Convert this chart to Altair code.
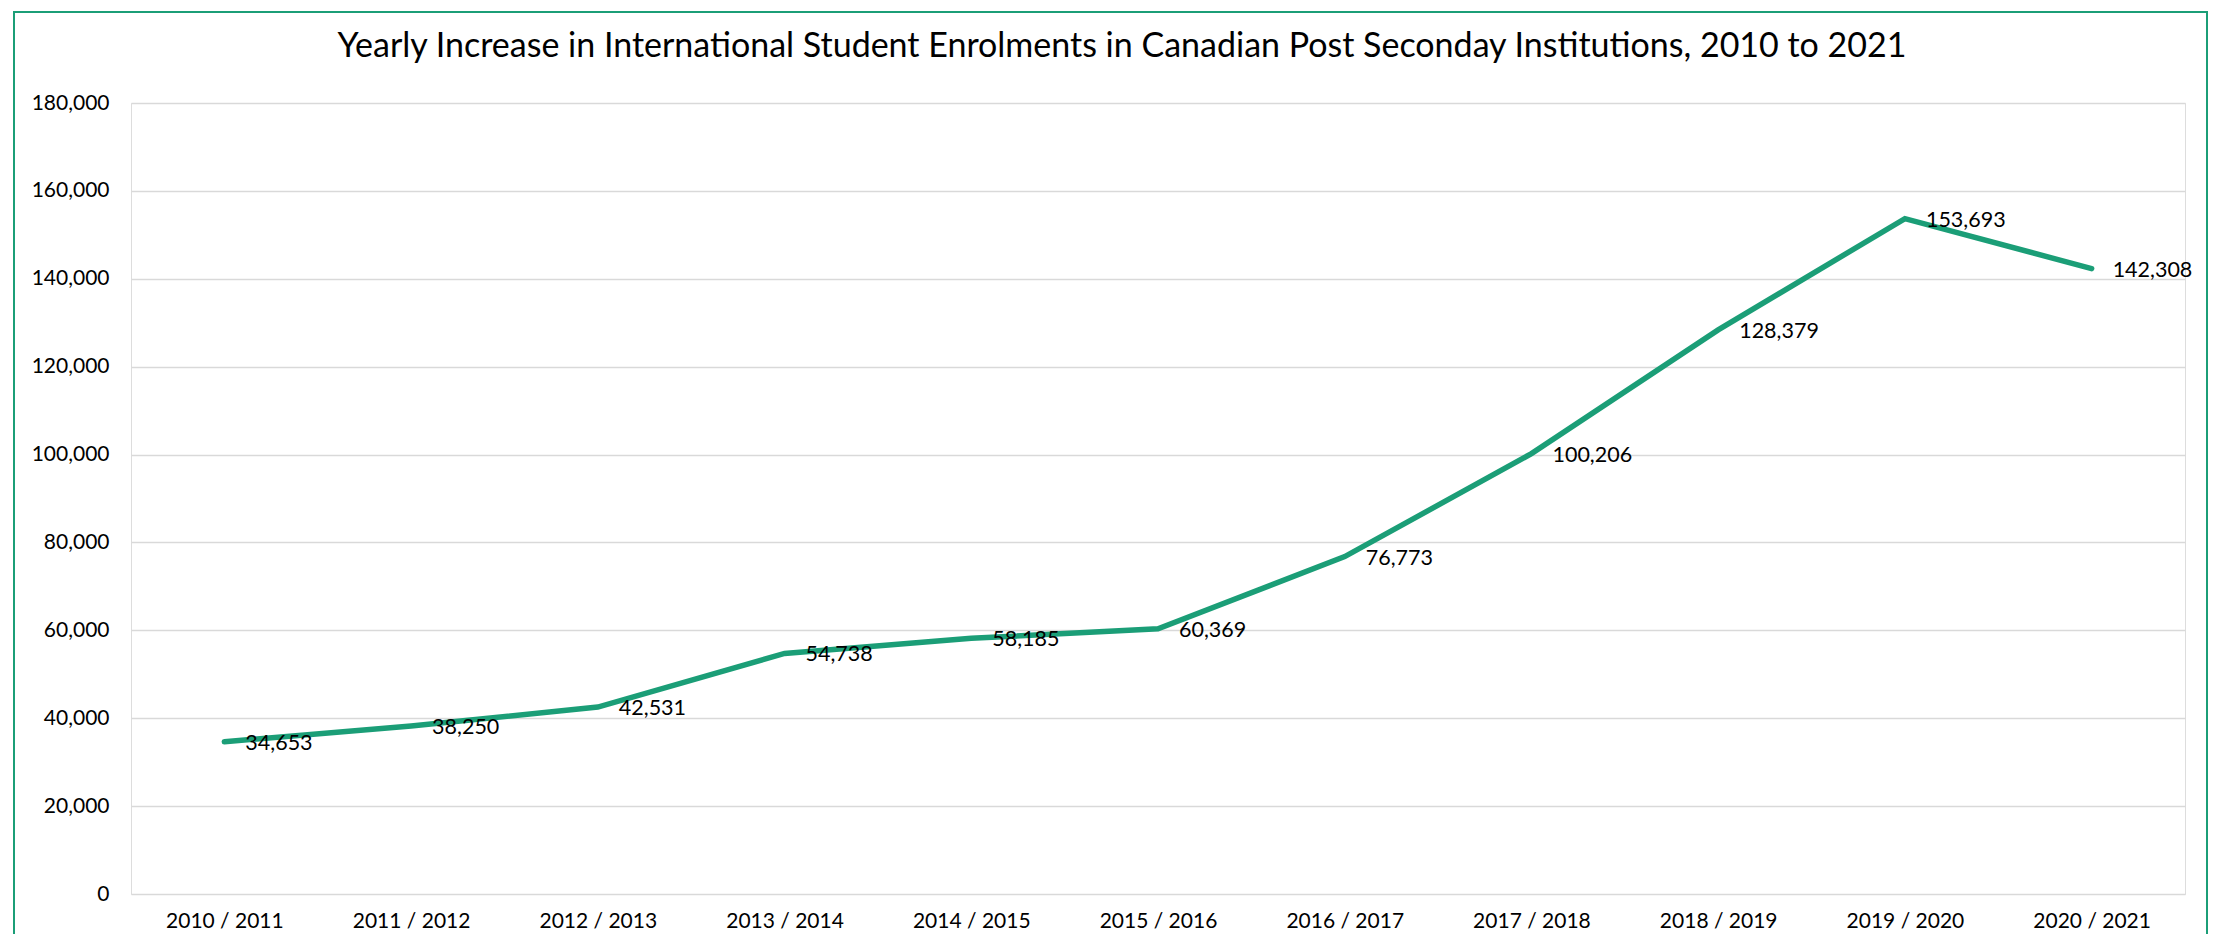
import altair as alt
import pandas as pd

years = ["2010 / 2011", "2011 / 2012", "2012 / 2013", "2013 / 2014", "2014 / 2015",
         "2015 / 2016", "2016 / 2017", "2017 / 2018", "2018 / 2019", "2019 / 2020",
         "2020 / 2021"]
enrolments = [34653, 38250, 42531, 54738, 58185, 60369, 76773, 100206, 128379, 153693, 142308]
title_text = ["Yearly Increase in International Student Enrolments in Canadian Post Seconday Institutions, 2010 to 2021"]

df = pd.DataFrame({"year": years, "value": enrolments})
tdf = pd.DataFrame({"t": title_text})

GREEN = "#1b9e77"
FONT = "Lato"

x = alt.X("year:N", sort=years, title=None,
          scale=alt.Scale(type="point", padding=0.5),
          axis=alt.Axis(labelAngle=0, labelFontSize=21, labelFont=FONT, labelColor="#000000",
                        domain=False, ticks=False, labelPadding=16))
y = alt.Y("value:Q", title=None,
          scale=alt.Scale(domain=[0, 180000], nice=False),
          axis=alt.Axis(values=list(range(0, 180001, 20000)), format=",.0f",
                        labelFontSize=21, labelFont=FONT, labelColor="#000000",
                        domain=False, ticks=False, labelPadding=22,
                        grid=True, gridColor="#d9d9d9", gridWidth=1.5))

line = alt.Chart(df).mark_line(color=GREEN, strokeWidth=5.5, strokeCap="round").encode(x=x, y=y)

labels = alt.Chart(df).mark_text(align="left", baseline="middle", dx=21, dy=2,
                                 fontSize=21.5, font=FONT, color="#000000").encode(
    x=x,
    y=y,
    text=alt.Text("value:Q", format=",.0f"),
)

title = alt.Chart(tdf).mark_text(align="center", baseline="middle", fontSize=34,
                                 font=FONT, color="#000000").encode(
    x=alt.value(991), y=alt.value(-56), text="t:N"
)

border = alt.Chart(tdf).mark_rect(filled=False, stroke=GREEN, strokeWidth=2).encode(
    x=alt.value(-117), x2=alt.value(2076), y=alt.value(-91), y2=alt.value(900)
)

chart = alt.layer(line, labels, title, border).properties(
    width=2054,
    height=791,
    padding={"left": 123, "top": 95, "right": 30, "bottom": 40},
    autosize=alt.AutoSizeParams(type="none"),
).configure_view(stroke=None).configure(background="white")

chart.save("out.html", embed_options={"renderer": "svg", "actions": False})
